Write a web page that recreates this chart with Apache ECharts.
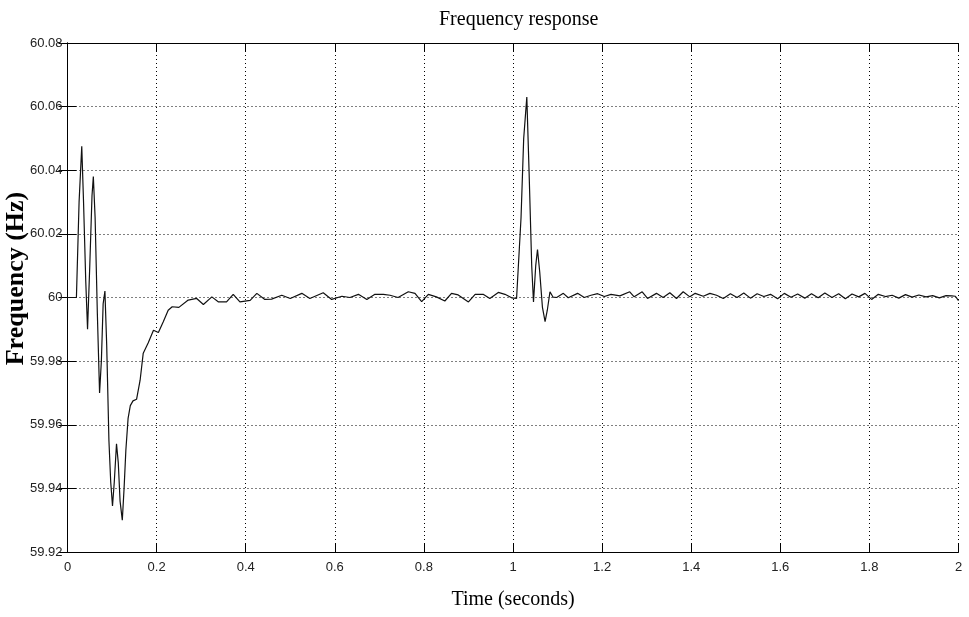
<!DOCTYPE html>
<html>
<head>
<meta charset="utf-8">
<title>Frequency response</title>
<script src="https://cdn.jsdelivr.net/npm/echarts@6/dist/echarts.min.js"></script>
<style>
  html, body { margin: 0; padding: 0; background: #fff; }
  #chart { width: 969px; height: 617px; }
</style>
</head>
<body>
<div id="chart"></div>
<script>
// time samples (s) and frequency (Hz)
const times = [
  0, 0.02, 0.026, 0.032, 0.036, 0.041, 0.045, 0.05, 0.055, 0.058,
  0.062, 0.067, 0.072, 0.076, 0.08, 0.084, 0.088, 0.093, 0.097, 0.101,
  0.105, 0.11, 0.114, 0.118, 0.123, 0.127, 0.131, 0.136, 0.141, 0.147,
  0.155, 0.163, 0.17, 0.181, 0.193, 0.204, 0.215, 0.226, 0.235, 0.25,
  0.271, 0.29, 0.305, 0.324, 0.339, 0.357, 0.372, 0.387, 0.41, 0.425,
  0.443, 0.458, 0.481, 0.5, 0.526, 0.544, 0.574, 0.593, 0.616, 0.634,
  0.653, 0.672, 0.69, 0.709, 0.724, 0.742, 0.765, 0.78, 0.795, 0.81,
  0.828, 0.847, 0.862, 0.877, 0.9, 0.915, 0.933, 0.948, 0.967, 0.982,
  0.997, 1.008, 1.012, 1.018, 1.024, 1.031, 1.036, 1.042, 1.046, 1.051,
  1.055, 1.06, 1.066, 1.072, 1.077, 1.083, 1.09, 1.098, 1.113, 1.124,
  1.145, 1.16, 1.175, 1.19, 1.205, 1.22, 1.24, 1.262, 1.272, 1.29,
  1.302, 1.322, 1.337, 1.352, 1.367, 1.382, 1.397, 1.409, 1.427, 1.442,
  1.457, 1.472, 1.488, 1.503, 1.518, 1.533, 1.548, 1.563, 1.578, 1.594,
  1.609, 1.624, 1.639, 1.655, 1.67, 1.685, 1.7, 1.716, 1.731, 1.746,
  1.761, 1.776, 1.79, 1.805, 1.82, 1.836, 1.851, 1.866, 1.881, 1.896,
  1.911, 1.927, 1.942, 1.957, 1.972, 1.985, 1.993, 2.0
];
const freqs = [
  60, 60, 60.03, 60.0475, 60.03, 60.005, 59.99, 60.01, 60.032, 60.038,
  60.025, 59.995, 59.97, 59.98, 59.998, 60.002, 59.985, 59.955, 59.942, 59.9345,
  59.942, 59.954, 59.948, 59.936, 59.93, 59.94, 59.952, 59.962, 59.966, 59.9675,
  59.968, 59.974, 59.9825, 59.9857, 59.9897, 59.989, 59.9924, 59.996, 59.9971, 59.9969,
  59.9992, 59.9997, 59.9978, 60.0002, 59.9986, 59.9986, 60.001, 59.9986, 59.9991, 60.0013,
  59.9994, 59.9995, 60.0007, 59.9997, 60.0013, 59.9997, 60.0015, 59.9994, 60.0004, 60.0,
  60.001, 59.9994, 60.001, 60.001, 60.0007, 60.0, 60.0018, 60.0013, 59.9987, 60.001,
  60.0002, 59.9989, 60.0013, 60.0008, 59.9986, 60.001, 60.001, 59.9997, 60.0016, 60.001,
  59.9999, 59.9997, 60.0, 60.025, 60.05, 60.063, 60.04, 60.01, 59.9986, 60.01,
  60.0151, 60.008, 59.997, 59.9924, 59.996, 60.0018, 60.0001, 60.0, 60.0013, 59.9999,
  60.0013, 60.0, 60.0007, 60.0012, 60.0003, 60.001, 60.0005, 60.0018, 60.0002, 60.0018,
  59.9997, 60.0013, 60.0, 60.0015, 59.9997, 60.0018, 60.0002, 60.0013, 60.0004, 60.0013,
  60.0007, 59.9997, 60.0012, 60.0, 60.0014, 59.9998, 60.0012, 60.0003, 60.001, 59.9996,
  60.0013, 60.0001, 60.0011, 59.9998, 60.0012, 59.9999, 60.0014, 60.0, 60.0012, 59.9996,
  60.0011, 60.0002, 60.0013, 59.9994, 60.001, 60.0003, 60.0007, 59.9998, 60.0009, 60.0001,
  60.0008, 60.0002, 60.0006, 59.9999, 60.0006, 60.0005, 60.0004, 59.999
];

const chart = echarts.init(document.getElementById("chart"));

const tickFont = {
  color: "#222",
  fontSize: 13,
  fontFamily: "'Liberation Sans Narrow', 'Liberation Sans', sans-serif"
};
const lineStyle = { color: "#000", width: 1 };
const tick = { show: true, inside: true, length: 9, lineStyle: lineStyle };
const grid = { show: true, lineStyle: { color: "#000", type: [1, 3], width: 1 } };

chart.setOption({
  animation: false,
  backgroundColor: "#fff",
  title: {
    text: "Frequency response",
    left: 434,
    top: 5,
    textStyle: {
      fontFamily: "'Liberation Serif', serif",
      fontWeight: "normal",
      fontSize: 20,
      color: "#000"
    }
  },
  grid: {
    left: 67.5, right: 10.5, top: 43, bottom: 65,
    containLabel: false,
    outerBoundsMode: "none"
  },
  xAxis: [
    {
      type: "value",
      min: 0,
      max: 2,
      interval: 0.2,
      name: "Time (seconds)",
      nameLocation: "middle",
      nameGap: 38,
      nameMoveOverlap: false,
      nameTextStyle: { fontFamily: "'Liberation Serif', serif", fontSize: 20, color: "#000" },
      axisLine: { show: true, lineStyle: lineStyle },
      axisTick: tick,
      axisLabel: Object.assign({ margin: 9, formatter: v => String(+v.toFixed(1)) }, tickFont),
      splitLine: grid
    },
    {
      type: "value",
      position: "top",
      min: 0,
      max: 2,
      interval: 0.2,
      axisLine: { show: true, lineStyle: lineStyle },
      axisTick: tick,
      axisLabel: { show: false },
      splitLine: { show: false }
    }
  ],
  yAxis: [
    {
      type: "value",
      min: 59.92,
      max: 60.08,
      interval: 0.02,
      name: "Frequency (Hz)",
      nameLocation: "middle",
      nameGap: 38,
      nameMoveOverlap: false,
      nameTextStyle: {
        fontFamily: "'Liberation Serif', serif",
        fontWeight: "bold",
        fontSize: 26,
        color: "#000",
        padding: [0, 0, 0, 38]
      },
      axisLine: { show: true, lineStyle: lineStyle },
      axisTick: tick,
      axisLabel: Object.assign({ margin: 5, formatter: v => String(+v.toFixed(2)) }, tickFont),
      splitLine: grid
    },
    {
      type: "value",
      position: "right",
      min: 59.92,
      max: 60.08,
      interval: 0.02,
      axisLine: { show: true, lineStyle: lineStyle },
      axisTick: tick,
      axisLabel: { show: false },
      splitLine: { show: false }
    }
  ],
  series: [
    {
      type: "line",
      xAxisIndex: 0,
      yAxisIndex: 0,
      showSymbol: false,
      lineStyle: { color: "#111", width: 1.2 },
      data: times.map((t, i) => [t, freqs[i]])
    }
  ]
});
</script>
</body>
</html>
